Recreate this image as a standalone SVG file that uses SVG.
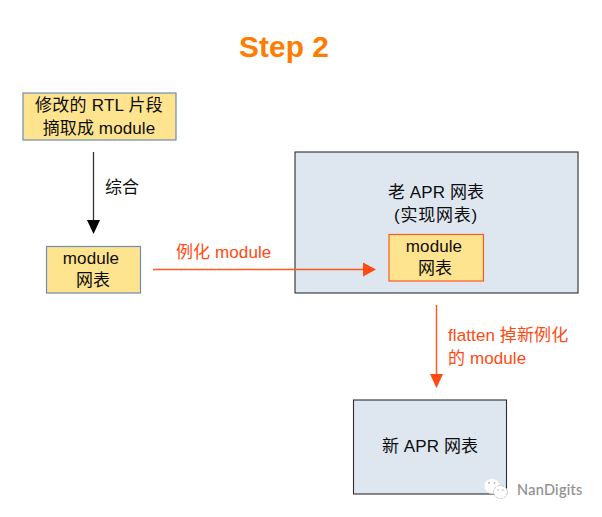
<svg xmlns="http://www.w3.org/2000/svg" width="602" height="517" viewBox="0 0 602 517">
  <style>
    text { font-family: "Liberation Sans", "Noto Sans CJK SC", sans-serif; font-size: 17px; letter-spacing: 0.100px; fill: #0d0d0d; text-anchor: middle; }
    .red { fill: #ff4a12; text-anchor: start; }
    .yellow { fill: #ffe48f; stroke: #6d8db5; stroke-width: 1.200; }
    .yellow-red { fill: #ffe48f; stroke: #ff5a20; stroke-width: 1.200; }
    .panel { fill: #dee6ef; stroke: #2e2e2e; stroke-width: 1.100; }
    .black-line { stroke: #333; stroke-width: 1.300; fill: none; }
    .red-line { stroke: #ff5a20; stroke-width: 1.500; fill: none; }
    .eye { fill: #b5b5b5; }
  </style>
  <rect width="602" height="517" fill="#fff"/>
  <text x="284" y="57" style="font-size:29.800px;font-weight:bold;fill:#ff7c00">Step 2</text>

  <g id="node-rtl">
    <rect class="yellow" x="23" y="93" width="153" height="47"/>
    <text x="99" y="111" style="letter-spacing:0.250px">修改的 RTL 片段</text>
    <text x="99" y="134">摘取成 module</text>
  </g>
  <g id="node-module">
    <rect class="yellow" x="46.500" y="246.500" width="94" height="46.500"/>
    <text x="91" y="264">module</text>
    <text x="93" y="286">网表</text>
  </g>
  <g id="node-old-apr">
    <rect class="panel" x="295" y="152" width="283" height="141"/>
    <text x="436" y="198">老 APR 网表</text>
    <text x="436" y="221" style="letter-spacing:0.800px">(实现网表)</text>
  </g>
  <g id="node-inner-module">
    <rect class="yellow-red" x="389" y="234.500" width="94.500" height="46.500"/>
    <text x="434" y="252">module</text>
    <text x="435" y="274">网表</text>
  </g>
  <g id="node-new-apr">
    <rect class="panel" x="353.500" y="400" width="153" height="94"/>
    <text x="430" y="452">新 APR 网表</text>
  </g>

  <g id="connectors">
    <line class="black-line" x1="93.500" y1="152" x2="93.500" y2="220"/>
    <polygon points="87,220 100,220 93.500,234" fill="#000"/>
    <line class="red-line" x1="153" y1="269.500" x2="364" y2="269.500"/>
    <polygon points="363,262.500 376,269.500 363,276.500" fill="#ff4a12"/>
    <line class="red-line" x1="436.500" y1="305" x2="436.500" y2="375"/>
    <polygon points="430,374 443,374 436.500,388" fill="#ff4a12"/>
  </g>

  <g id="labels">
    <text x="122" y="193">综合</text>
    <text class="red" x="176" y="258">例化 module</text>
    <text class="red" x="448" y="341">flatten 掉新例化</text>
    <text class="red" x="448" y="364">的 module</text>
  </g>

  <g id="watermark">
    <ellipse cx="492" cy="486" rx="8" ry="7.500" fill="#fff" stroke="#e6e6e6" stroke-width="0.800"/>
    <ellipse cx="500.500" cy="492" rx="7" ry="6.500" fill="#fff" stroke="#bdbdbd" stroke-width="0.800" stroke-dasharray="3 1"/>
    <circle class="eye" cx="489" cy="483" r="0.900"/>
    <circle class="eye" cx="494.500" cy="483" r="0.900"/>
    <circle class="eye" cx="498" cy="490" r="0.800"/>
    <circle class="eye" cx="503" cy="490" r="0.800"/>
    <text x="517" y="495" style="font-family:Lato,sans-serif;font-size:14.500px;fill:#8f8f8f;text-anchor:start;letter-spacing:0.300px;stroke:#8f8f8f;stroke-width:0.200">NanDigits</text>
  </g>
</svg>
